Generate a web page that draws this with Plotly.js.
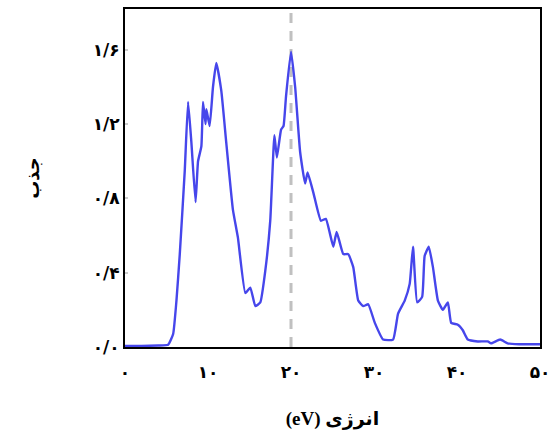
<!DOCTYPE html>
<html>
<head>
<meta charset="utf-8">
<script src="https://cdn.plot.ly/plotly-3.0.1.min.js"></script>
<style>html,body{margin:0;padding:0;background:#fff;}#chart{width:555px;height:435px;}</style>
</head>
<body>
<div id="chart"></div>
<script>
// Energy (eV)
const energy = [0, 2, 4, 5.2, 5.8, 6.2, 6.6, 7.2, 7.6, 8.0, 8.5, 8.8, 9.2, 9.4, 9.7, 9.8, 10.2, 10.6, 11.0, 11.6, 12.2, 13.0, 13.6, 14.5, 15.1, 15.7, 16.3, 16.9, 17.5, 18.0, 18.3, 18.8, 19.1, 19.4, 20.0, 20.5, 21.1, 21.7, 22.0, 22.7, 23.6, 24.2, 25.1, 25.5, 26.3, 26.9, 27.5, 28.1, 28.7, 29.3, 30.1, 31.1, 32.3, 32.9, 33.7, 34.3, 34.7, 35.2, 35.8, 36.1, 36.6, 37.1, 37.7, 38.3, 38.9, 39.3, 40.1, 40.7, 41.3, 42.5, 43.7, 44.1, 45.2, 46.1, 47.5, 49.4, 50];
// Absorption
const absorption = [0.005, 0.006, 0.008, 0.012, 0.07, 0.25, 0.5, 0.95, 1.32, 1.1, 0.78, 1.0, 1.08, 1.32, 1.2, 1.28, 1.19, 1.4, 1.53, 1.38, 1.1, 0.74, 0.59, 0.29, 0.32, 0.22, 0.24, 0.41, 0.68, 1.14, 1.02, 1.17, 1.19, 1.35, 1.59, 1.4, 1.05, 0.88, 0.94, 0.83, 0.68, 0.69, 0.54, 0.62, 0.5, 0.5, 0.43, 0.25, 0.22, 0.23, 0.13, 0.04, 0.04, 0.18, 0.25, 0.34, 0.54, 0.24, 0.27, 0.49, 0.54, 0.43, 0.25, 0.2, 0.24, 0.13, 0.12, 0.09, 0.04, 0.03, 0.03, 0.02, 0.04, 0.02, 0.015, 0.015, 0.015];
const xTickVals = [0, 10, 20, 30, 40, 50];
const xTickText = ["۰", "۱۰", "۲۰", "۳۰", "۴۰", "۵۰"];
const yTickVals = [0, 0.4, 0.8, 1.2, 1.6];
const yTickText = ["۰/۰", "۰/۴", "۰/۸", "۱/۲", "۱/۶"];
const markerEnergy = [20, 20];
const markerRange = [0, 1.82];
const xTitle = '(eV) انرژی';
const yTitle = 'جذب';

const serif = "Times New Roman, Liberation Serif, DejaVu Sans, serif";
const digits = "DejaVu Sans, sans-serif";
const bold = s => '<b>' + s + '</b>';
const traces = [
  {x: markerEnergy, y: markerRange, mode: 'lines', line: {color: '#c0c0c0', width: 3, dash: '10px,8px'}, hoverinfo: 'skip'},
  {x: energy, y: absorption, mode: 'lines', line: {color: 'rgb(70,70,235)', width: 2.4, shape: 'spline', smoothing: 0.4}}
];
const layout = {
  width: 555, height: 435,
  margin: {l: 125, r: 15, t: 9, b: 88},
  paper_bgcolor: '#fff', plot_bgcolor: '#fff',
  showlegend: false,
  font: {family: serif, size: 15, color: '#000'},
  xaxis: {
    range: [0, 50], tickvals: xTickVals, ticktext: xTickText.map(bold),
    showgrid: false, zeroline: false,
    showline: true, mirror: true, linecolor: '#000', linewidth: 2,
    ticks: '', ticklabelstandoff: 9,
    tickfont: {family: digits, size: 17},
    title: {text: bold(xTitle), font: {family: serif, size: 19}, standoff: 30}
  },
  yaxis: {
    range: [0, 1.82], tickvals: yTickVals, ticktext: yTickText.map(bold),
    showgrid: false, zeroline: false,
    showline: true, mirror: true, linecolor: '#000', linewidth: 2,
    ticks: 'inside', ticklen: 3, tickcolor: '#ccc', tickwidth: 2,
    tickfont: {family: digits, size: 17},
    title: {text: bold(yTitle), font: {family: serif, size: 18}, standoff: 48}
  }
};
Plotly.newPlot('chart', traces, layout, {displayModeBar: false, staticPlot: true});
</script>
</body>
</html>
